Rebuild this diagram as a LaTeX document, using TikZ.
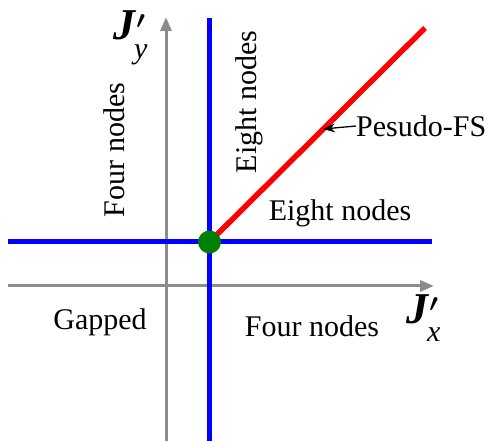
\documentclass[tikz,border=0pt]{standalone}
\usepackage{fontspec}
\setmainfont{Liberation Serif}
\usetikzlibrary{arrows.meta}
\definecolor{axgray}{RGB}{140,140,140}
\definecolor{dotgreen}{RGB}{0,128,0}
\tikzset{
  axis/.style={draw=axgray, line width=3pt, -{Triangle[length=14pt,width=11pt]}},
  bline/.style={draw=blue, line width=5pt},
  lbl/.style={font=\fontsize{30}{30}\selectfont, inner sep=0pt},
  jlbl/.style={inner sep=0pt, font=\fontsize{44}{44}\selectfont}
}
\newcommand{\jlabel}[1]{\textbf{\textit{J}}\rlap{\raisebox{0.05em}{\boldmath$^{\prime}$}}\kern-0.05em\raisebox{-0.42em}{\fontsize{30}{30}\selectfont\textit{#1}}}
\begin{document}
\begin{tikzpicture}[x=1pt,y=-1pt]
\useasboundingbox (0,0) rectangle (488,441);
% gray axes
\coordinate (xs) at (8,286);
\coordinate (xe) at (434,286);
\coordinate (ys) at (166,441);
\coordinate (ye) at (166,17);
\draw[axis] (xs) -- (xe);
\draw[axis] (ys) -- (ye);
% blue lines
\coordinate (bvs) at (209.5,18);
\coordinate (bve) at (209.5,441);
\coordinate (bhs) at (8,242);
\coordinate (bhe) at (432,242);
\draw[bline] (bvs) -- (bve);
\draw[bline] (bhs) -- (bhe);
% red line
\coordinate (o) at (209.5,242);
\coordinate (rend) at (425,28);
\draw[red, line width=5.5pt] (o) -- (rend);
% green dot
\node[circle, fill=dotgreen, minimum size=23pt, inner sep=0pt] (dot) at (o) {};
% labels
\node[lbl, rotate=90] (en1) at (249,102) {Eight nodes};
\node[lbl, rotate=90] (fn1) at (114,150) {Four nodes};
\node[lbl] (en2) at (340,213) {Eight nodes};
\node[lbl] (gap) at (100,322) {Gapped};
\node[lbl] (fn2) at (312,326) {Four nodes};
\node[lbl, anchor=west] (pfs) at (356,126) {Pesudo-FS};
\coordinate (pt) at (323,129);
\draw[line width=1.3pt, -{Stealth[length=12pt,width=9pt]}] (pfs.west) -- (pt);
\node[jlbl, anchor=west] (jy) at (113,38) {\jlabel{y}};
\node[jlbl, anchor=west] (jx) at (406,318) {\jlabel{x}};
\end{tikzpicture}
\end{document}
